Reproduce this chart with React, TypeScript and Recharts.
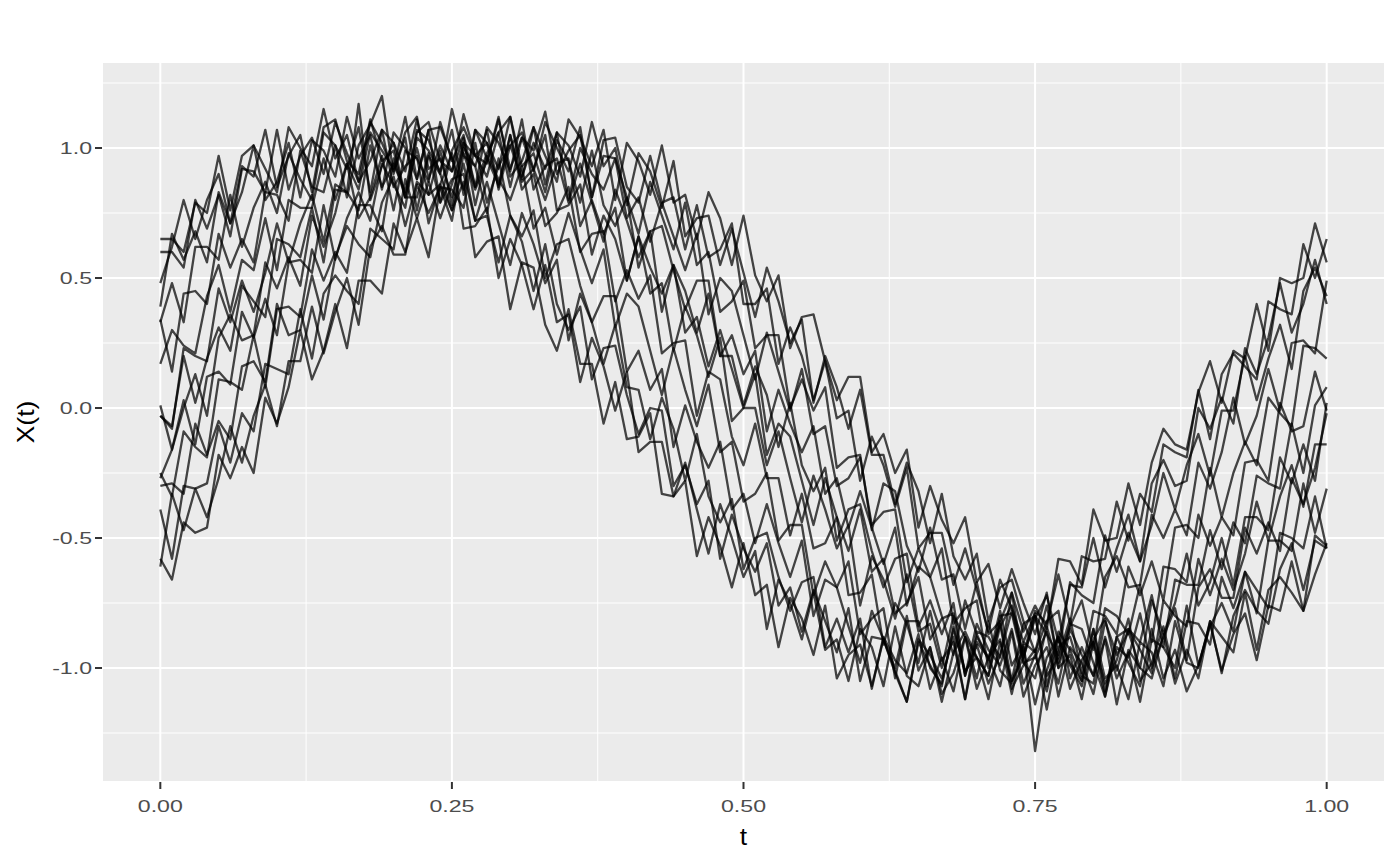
import { LineChart, Line, XAxis, YAxis, CartesianGrid } from 'recharts'

// time grid t = 0.00 .. 1.00
const T = [
  0.00, 0.01, 0.02, 0.03, 0.04, 0.05, 0.06, 0.07, 0.08, 0.09,
  0.10, 0.11, 0.12, 0.13, 0.14, 0.15, 0.16, 0.17, 0.18, 0.19,
  0.20, 0.21, 0.22, 0.23, 0.24, 0.25, 0.26, 0.27, 0.28, 0.29,
  0.30, 0.31, 0.32, 0.33, 0.34, 0.35, 0.36, 0.37, 0.38, 0.39,
  0.40, 0.41, 0.42, 0.43, 0.44, 0.45, 0.46, 0.47, 0.48, 0.49,
  0.50, 0.51, 0.52, 0.53, 0.54, 0.55, 0.56, 0.57, 0.58, 0.59,
  0.60, 0.61, 0.62, 0.63, 0.64, 0.65, 0.66, 0.67, 0.68, 0.69,
  0.70, 0.71, 0.72, 0.73, 0.74, 0.75, 0.76, 0.77, 0.78, 0.79,
  0.80, 0.81, 0.82, 0.83, 0.84, 0.85, 0.86, 0.87, 0.88, 0.89,
  0.90, 0.91, 0.92, 0.93, 0.94, 0.95, 0.96, 0.97, 0.98, 0.99,
  1.00,
]

const S01 = [
  0.65, 0.65, 0.60, 0.79, 0.75, 0.97, 0.76, 0.97, 1.01, 0.92,
  0.83, 1.08, 1.00, 0.93, 1.15, 0.96, 1.05, 0.87, 0.95, 1.07,
  0.85, 0.93, 0.97, 0.71, 0.86, 0.76, 0.87, 0.58, 0.64, 0.66,
  0.38, 0.56, 0.54, 0.32, 0.22, 0.38, 0.17, 0.17, -0.06, 0.10,
  -0.12, -0.11, -0.02, -0.33, -0.34, -0.28, -0.57, -0.42, -0.53, -0.69,
  -0.52, -0.72, -0.68, -0.92, -0.73, -0.81, -0.95, -0.76, -1.04, -0.95,
  -0.91, -1.07, -0.89, -1.02, -1.13, -0.89, -0.95, -1.04, -0.88, -1.12,
  -0.86, -0.88, -0.96, -0.71, -0.86, -0.76, -0.85, -0.58, -0.59, -0.68,
  -0.39, -0.51, -0.50, -0.29, -0.45, -0.21, -0.08, -0.14, -0.16, 0.06,
  0.18, 0.02, 0.22, 0.19, 0.40, 0.22, 0.50, 0.48, 0.50, 0.71,
  0.56,
]
const S02 = [
  0.48, 0.62, 0.80, 0.65, 0.80, 0.90, 0.71, 0.93, 0.89, 1.07,
  0.85, 0.97, 1.05, 0.83, 1.08, 1.11, 0.95, 0.90, 1.11, 0.95,
  0.99, 0.81, 1.00, 0.82, 0.86, 0.98, 0.69, 0.70, 0.77, 0.50,
  0.65, 0.55, 0.38, 0.55, 0.33, 0.36, 0.10, 0.27, 0.16, -0.01,
  0.14, -0.17, -0.13, -0.13, -0.34, -0.21, -0.39, -0.56, -0.37, -0.50,
  -0.65, -0.55, -0.85, -0.66, -0.75, -0.89, -0.71, -0.93, -0.89, -1.05,
  -0.85, -0.92, -1.07, -0.84, -1.03, -1.07, -0.92, -1.13, -0.94, -0.86,
  -0.96, -1.03, -0.84, -0.76, -0.95, -0.78, -0.83, -0.64, -0.83, -0.57,
  -0.59, -0.58, -0.36, -0.51, -0.33, -0.40, -0.14, -0.17, -0.19, 0.07,
  -0.12, 0.13, 0.21, 0.16, 0.11, 0.41, 0.38, 0.36, 0.63, 0.50,
  0.65,
]
const S03 = [
  0.39, 0.67, 0.57, 0.68, 0.56, 0.83, 0.71, 0.83, 1.01, 0.80,
  0.87, 1.02, 0.81, 1.03, 0.99, 0.89, 1.12, 0.96, 1.05, 0.84,
  1.06, 1.00, 0.88, 1.07, 0.79, 0.88, 0.90, 0.72, 0.87, 0.71,
  0.55, 0.75, 0.63, 0.48, 0.57, 0.26, 0.44, 0.33, 0.17, 0.32,
  0.08, 0.07, -0.12, 0.04, -0.08, -0.28, -0.10, -0.34, -0.44, -0.35,
  -0.62, -0.50, -0.48, -0.65, -0.78, -0.67, -0.65, -0.92, -0.81, -0.94,
  -0.81, -1.08, -0.88, -0.97, -1.02, -0.87, -1.08, -0.96, -1.09, -0.88,
  -0.96, -1.03, -0.82, -1.05, -0.83, -0.80, -0.87, -0.95, -0.67, -0.72,
  -0.75, -0.49, -0.63, -0.48, -0.59, -0.45, -0.25, -0.39, -0.22, -0.10,
  -0.26, -0.01, -0.01, 0.20, 0.03, 0.19, 0.32, 0.15, 0.45, 0.54,
  0.43,
]
const S04 = [
  0.33, 0.48, 0.33, 0.62, 0.62, 0.57, 0.82, 0.62, 0.77, 0.87,
  0.75, 0.98, 0.88, 0.80, 1.06, 1.01, 0.92, 1.08, 0.83, 1.07,
  1.02, 0.91, 1.11, 0.92, 0.96, 0.81, 1.00, 0.93, 0.75, 0.96,
  0.74, 0.66, 0.76, 0.50, 0.63, 0.65, 0.47, 0.33, 0.43, 0.43,
  0.14, 0.22, 0.07, 0.15, -0.15, 0.01, -0.13, -0.23, -0.13, -0.39,
  -0.33, -0.52, -0.37, -0.52, -0.65, -0.51, -0.80, -0.66, -0.69, -0.84,
  -0.98, -0.78, -0.89, -1.00, -0.80, -1.01, -0.92, -1.10, -1.02, -0.88,
  -1.08, -0.96, -0.89, -1.10, -0.90, -0.94, -0.76, -0.98, -0.84, -0.74,
  -0.93, -0.65, -0.57, -0.69, -0.68, -0.41, -0.50, -0.39, -0.49, -0.21,
  -0.31, -0.17, 0.04, -0.14, -0.03, 0.15, -0.01, 0.25, 0.26, 0.21,
  0.49,
]
const S05 = [
  0.34, 0.14, 0.44, 0.45, 0.40, 0.67, 0.54, 0.65, 0.56, 0.83,
  0.82, 0.72, 0.99, 0.85, 0.83, 1.01, 0.81, 1.01, 1.09, 1.20,
  0.90, 1.06, 1.12, 0.88, 1.01, 0.91, 1.04, 0.78, 0.97, 0.88,
  0.80, 0.93, 0.69, 0.77, 0.59, 0.75, 0.61, 0.48, 0.61, 0.31,
  0.44, 0.39, 0.22, 0.05, 0.23, 0.07, -0.07, 0.09, -0.17, -0.13,
  -0.36, -0.33, -0.25, -0.51, -0.45, -0.45, -0.72, -0.59, -0.69, -0.59,
  -0.87, -0.81, -0.77, -1.04, -0.82, -0.82, -1.00, -1.06, -0.85, -1.01,
  -0.96, -1.12, -0.90, -1.05, -0.96, -0.80, -1.03, -0.96, -0.81, -1.02,
  -0.78, -0.80, -0.87, -0.61, -0.72, -0.59, -0.74, -0.46, -0.45, -0.50,
  -0.23, -0.42, -0.25, -0.13, -0.22, 0.04, -0.02, -0.07, 0.24, 0.23,
  0.19,
]
const S06 = [
  0.17, 0.30, 0.24, 0.21, 0.43, 0.55, 0.37, 0.57, 0.53, 0.73,
  0.53, 0.80, 0.77, 0.77, 0.96, 0.80, 0.94, 0.84, 1.06, 0.99,
  0.92, 1.12, 0.88, 1.07, 1.08, 0.96, 0.84, 1.07, 0.96, 0.86,
  1.05, 0.84, 0.90, 0.70, 0.75, 0.85, 0.60, 0.67, 0.68, 0.41,
  0.53, 0.42, 0.51, 0.21, 0.25, 0.26, -0.03, 0.14, 0.11, -0.11,
  -0.22, -0.06, -0.27, -0.27, -0.49, -0.33, -0.54, -0.52, -0.42, -0.72,
  -0.71, -0.64, -0.91, -0.75, -0.83, -0.98, -0.78, -0.97, -0.90, -1.12,
  -0.90, -0.96, -1.07, -0.86, -1.11, -0.99, -0.92, -1.06, -0.85, -0.95,
  -1.03, -0.77, -0.80, -0.87, -0.68, -0.90, -0.61, -0.62, -0.67, -0.41,
  -0.53, -0.42, -0.49, -0.21, -0.20, -0.28, 0.02, -0.09, -0.07, 0.14,
  -0.01,
]
const S07 = [
  -0.03, -0.08, 0.23, 0.20, 0.18, 0.46, 0.33, 0.49, 0.37, 0.52,
  0.71, 0.56, 0.71, 0.82, 0.64, 0.86, 0.83, 1.17, 0.80, 0.93,
  1.02, 0.81, 1.06, 1.10, 0.95, 0.91, 1.13, 0.97, 1.02, 0.85,
  1.05, 0.87, 0.92, 1.05, 0.76, 0.78, 0.86, 0.59, 0.74, 0.65,
  0.49, 0.66, 0.44, 0.48, 0.22, 0.39, 0.28, 0.12, 0.27, -0.05,
  0.00, 0.00, -0.22, -0.09, -0.27, -0.44, -0.26, -0.39, -0.54, -0.45,
  -0.76, -0.57, -0.66, -0.81, -0.64, -0.86, -0.83, -1.00, -0.80, -0.88,
  -1.04, -0.82, -1.01, -1.06, -0.92, -1.14, -0.96, -0.88, -0.99, -1.07,
  -0.89, -0.81, -1.01, -0.85, -0.90, -0.72, -0.92, -0.66, -0.68, -0.68,
  -0.47, -0.62, -0.44, -0.52, -0.26, -0.29, -0.31, -0.06, -0.25, 0.01,
  0.08,
]
const S08 = [
  0.01, -0.16, 0.00, 0.13, -0.03, 0.27, 0.36, 0.26, 0.28, 0.56,
  0.46, 0.58, 0.47, 0.74, 0.62, 0.75, 0.94, 0.73, 0.81, 0.97,
  0.76, 0.99, 0.96, 0.87, 1.10, 0.95, 1.05, 0.85, 1.08, 1.02,
  0.91, 1.11, 0.84, 0.93, 0.96, 0.79, 0.94, 0.79, 0.64, 0.84,
  0.72, 0.58, 0.68, 0.37, 0.55, 0.45, 0.29, 0.44, 0.20, 0.20,
  0.01, 0.16, 0.05, -0.15, 0.02, -0.22, -0.32, -0.23, -0.51, -0.39,
  -0.37, -0.55, -0.69, -0.58, -0.56, -0.84, -0.74, -0.87, -0.75, -1.03,
  -0.83, -0.93, -0.99, -0.85, -1.06, -0.95, -1.09, -0.89, -0.98, -1.05,
  -0.85, -1.09, -0.88, -0.85, -0.93, -1.02, -0.74, -0.80, -0.84, -0.58,
  -0.72, -0.58, -0.70, -0.56, -0.36, -0.51, -0.34, -0.22, -0.38, -0.14,
  -0.14,
]
const S09 = [
  -0.27, -0.16, 0.03, -0.14, 0.12, 0.14, 0.09, 0.37, 0.27, 0.42,
  0.28, 0.56, 0.57, 0.52, 0.78, 0.57, 0.73, 0.83, 0.72, 0.94,
  0.86, 0.77, 1.04, 0.99, 0.91, 1.07, 0.82, 1.07, 1.02, 0.92,
  1.12, 0.93, 0.98, 0.83, 1.03, 0.95, 0.79, 0.99, 0.78, 0.70,
  0.81, 0.54, 0.68, 0.70, 0.53, 0.38, 0.49, 0.49, 0.20, 0.28,
  0.13, 0.22, -0.09, 0.07, -0.06, -0.17, -0.07, -0.33, -0.27, -0.46,
  -0.32, -0.46, -0.60, -0.46, -0.76, -0.61, -0.65, -0.80, -0.95, -0.74,
  -0.87, -0.97, -0.78, -0.99, -0.91, -1.32, -1.01, -0.88, -1.08, -0.97,
  -0.90, -1.11, -0.92, -0.96, -0.79, -1.00, -0.88, -0.77, -0.97, -0.69,
  -0.62, -0.73, -0.73, -0.46, -0.56, -0.44, -0.55, -0.27, -0.37, -0.23,
  -0.02,
]
const S10 = [
  -0.25, -0.34, -0.09, -0.15, -0.19, 0.11, 0.10, 0.07, 0.28, 0.08,
  0.38, 0.39, 0.35, 0.61, 0.49, 0.60, 0.52, 0.78, 0.78, 0.68,
  0.96, 0.81, 0.81, 0.98, 0.79, 0.99, 1.08, 0.97, 0.89, 1.06,
  1.12, 0.89, 1.02, 0.92, 1.06, 0.80, 1.00, 0.90, 0.84, 0.96,
  0.73, 0.81, 0.64, 0.79, 0.66, 0.53, 0.67, 0.36, 0.50, 0.45,
  0.28, 0.11, 0.29, 0.14, -0.01, 0.15, -0.10, -0.07, -0.30, -0.27,
  -0.19, -0.45, -0.40, -0.39, -0.67, -0.54, -0.65, -0.54, -0.83, -0.77,
  -0.74, -1.00, -0.80, -0.79, -0.98, -1.04, -0.84, -1.00, -0.95, -1.12,
  -0.90, -1.06, -0.97, -0.81, -1.05, -0.98, -0.84, -1.04, -0.82, -0.83,
  -0.91, -0.65, -0.77, -0.63, -0.79, -0.51, -0.51, -0.55, -0.29, -0.48,
  -0.31,
]
const S11 = [
  -0.30, -0.29, -0.33, -0.06, -0.18, -0.05, -0.12, 0.16, 0.18, 0.10,
  0.40, 0.28, 0.30, 0.51, 0.34, 0.58, 0.70, 0.63, 0.58, 0.79,
  0.89, 0.70, 0.87, 0.82, 0.99, 0.78, 1.02, 0.97, 0.94, 1.11,
  0.92, 1.04, 0.91, 1.10, 1.00, 0.91, 1.08, 0.81, 0.97, 0.96,
  0.81, 0.67, 0.87, 0.74, 0.61, 0.79, 0.55, 0.60, 0.37, 0.41,
  0.49, 0.23, 0.28, 0.28, 0.00, 0.11, -0.01, 0.08, -0.23, -0.19,
  -0.18, -0.47, -0.29, -0.32, -0.53, -0.63, -0.46, -0.66, -0.64, -0.85,
  -0.67, -0.87, -0.82, -0.71, -0.98, -0.96, -0.86, -1.11, -0.92, -0.98,
  -1.10, -0.88, -1.04, -0.94, -1.13, -0.89, -0.92, -1.00, -0.76, -0.99,
  -0.84, -0.75, -0.86, -0.63, -0.70, -0.77, -0.48, -0.50, -0.54, -0.34,
  -0.54,
]
const S12 = [
  -0.39, -0.58, -0.30, -0.31, -0.29, -0.07, -0.21, -0.02, -0.09, 0.17,
  0.15, 0.13, 0.38, 0.19, 0.44, 0.51, 0.45, 0.40, 0.69, 0.65,
  0.61, 0.88, 0.73, 0.87, 0.73, 0.86, 1.02, 0.85, 0.98, 1.06,
  0.85, 1.04, 0.99, 1.14, 0.90, 0.99, 1.05, 0.81, 1.03, 1.04,
  0.85, 0.79, 0.97, 0.79, 0.81, 0.61, 0.78, 0.58, 0.61, 0.71,
  0.40, 0.40, 0.46, 0.17, 0.31, 0.20, 0.03, 0.18, -0.04, -0.01,
  -0.28, -0.11, -0.22, -0.38, -0.23, -0.54, -0.48, -0.48, -0.68, -0.54,
  -0.70, -0.86, -0.66, -0.77, -0.90, -0.79, -1.07, -0.86, -0.93, -1.05,
  -0.85, -1.04, -0.99, -1.12, -0.90, -0.94, -1.07, -0.82, -0.98, -1.00,
  -0.82, -1.02, -0.80, -0.70, -0.78, -0.83, -0.62, -0.52, -0.70, -0.51,
  -0.54,
]
const S13 = [
  -0.61, -0.33, -0.47, -0.31, -0.42, -0.27, -0.07, -0.21, -0.03, 0.09,
  -0.07, 0.18, 0.18, 0.39, 0.21, 0.37, 0.50, 0.32, 0.62, 0.70,
  0.59, 0.59, 0.86, 0.75, 0.85, 0.72, 0.98, 0.84, 0.95, 1.12,
  0.89, 0.95, 1.08, 0.86, 1.06, 1.01, 0.89, 1.10, 0.93, 1.00,
  0.78, 0.98, 0.91, 0.77, 0.95, 0.66, 0.73, 0.74, 0.55, 0.69,
  0.52, 0.35, 0.54, 0.41, 0.25, 0.34, 0.02, 0.20, 0.08, -0.08,
  0.07, -0.18, -0.18, -0.37, -0.21, -0.32, -0.52, -0.33, -0.57, -0.66,
  -0.56, -0.82, -0.69, -0.66, -0.82, -0.94, -0.82, -0.78, -1.04, -0.92,
  -1.03, -0.89, -1.14, -0.93, -1.00, -1.04, -0.87, -1.06, -0.93, -1.04,
  -0.82, -0.88, -0.94, -0.71, -0.93, -0.70, -0.65, -0.71, -0.78, -0.49,
  -0.53,
]
const S14 = [
  -0.58, -0.66, -0.44, -0.48, -0.46, -0.18, -0.27, -0.15, -0.25, 0.04,
  -0.06, 0.08, 0.30, 0.11, 0.22, 0.40, 0.23, 0.49, 0.49, 0.44,
  0.71, 0.60, 0.73, 0.58, 0.85, 0.84, 0.77, 1.02, 0.79, 0.93,
  1.01, 0.88, 1.08, 0.97, 0.87, 1.11, 1.04, 0.93, 1.07, 0.80,
  1.02, 0.95, 0.82, 1.01, 0.79, 0.82, 0.65, 0.83, 0.73, 0.55,
  0.74, 0.51, 0.41, 0.51, 0.23, 0.35, 0.36, 0.18, 0.03, 0.12,
  0.12, -0.17, -0.10, -0.25, -0.16, -0.46, -0.30, -0.43, -0.52, -0.42,
  -0.67, -0.60, -0.77, -0.62, -0.75, -0.87, -0.71, -1.00, -0.83, -0.85,
  -0.98, -1.11, -0.88, -0.98, -1.07, -0.85, -1.04, -0.93, -1.09, -0.99,
  -0.83, -1.01, -0.87, -0.79, -0.97, -0.76, -0.78, -0.59, -0.78, -0.64,
  -0.52,
]
const S15 = [
  0.60, 0.60, 0.54, 0.80, 0.69, 0.82, 0.66, 0.92, 0.91, 0.83,
  1.07, 0.84, 0.97, 1.04, 0.90, 1.10, 0.98, 0.87, 1.10, 1.02,
  0.91, 1.04, 0.76, 0.97, 0.90, 0.76, 0.94, 0.72, 0.74, 0.56,
  0.74, 0.64, 0.45, 0.63, 0.40, 0.30, 0.39, 0.11, 0.23, 0.24,
  0.05, -0.10, 0.00, -0.01, -0.30, -0.22, -0.37, -0.28, -0.58, -0.41,
  -0.54, -0.63, -0.52, -0.76, -0.69, -0.86, -0.70, -0.82, -0.94, -0.77,
  -1.05, -0.88, -0.89, -1.01, -1.13, -0.90, -0.99, -1.07, -0.84, -1.02,
  -0.91, -1.06, -0.95, -0.78, -0.96, -0.81, -0.72, -0.90, -0.68, -0.69,
  -0.50, -0.69, -0.54, -0.41, -0.59, -0.29, -0.20, -0.30, -0.28, 0.00,
  -0.08, 0.04, -0.06, 0.23, 0.13, 0.27, 0.48, 0.29, 0.40, 0.57,
  0.40,
]
const S16 = [
  -0.03, -0.07, 0.20, 0.02, 0.19, 0.31, 0.22, 0.47, 0.41, 0.35,
  0.65, 0.63, 0.58, 0.77, 0.56, 0.84, 0.83, 0.76, 1.01, 0.85,
  0.94, 0.83, 1.07, 1.03, 0.90, 1.15, 0.97, 0.93, 1.07, 0.84,
  1.01, 1.06, 0.92, 0.80, 0.94, 0.96, 0.70, 0.80, 0.67, 0.77,
  0.49, 0.66, 0.54, 0.44, 0.55, 0.29, 0.35, 0.16, 0.30, 0.15,
  0.00, 0.13, -0.18, -0.06, -0.11, -0.28, -0.45, -0.27, -0.42, -0.55,
  -0.39, -0.63, -0.58, -0.79, -0.75, -0.65, -0.89, -0.81, -0.79, -1.03,
  -0.88, -0.96, -0.83, -1.08, -0.99, -0.93, -1.16, -0.92, -0.88, -1.03,
  -1.06, -0.82, -0.95, -0.86, -1.00, -0.74, -0.87, -0.75, -0.56, -0.76,
  -0.67, -0.50, -0.68, -0.42, -0.42, -0.47, -0.19, -0.29, -0.14, -0.28,
  0.02,
]

const SERIES = [S01, S02, S03, S04, S05, S06, S07, S08, S09, S10, S11, S12, S13, S14, S15, S16]
const KEYS = SERIES.map((_, i) => `x${i + 1}`)

const X_TICKS = [0, 0.25, 0.5, 0.75, 1]
const X_MINOR = [0.125, 0.375, 0.625, 0.875]
const Y_TICKS = [-1, -0.5, 0, 0.5, 1]
const Y_MINOR = [-1.25, -0.75, -0.25, 0.25, 0.75, 1.25]
const X_DOMAIN = [-0.05, 1.05]
const Y_DOMAIN = [-1.4385, 1.3308]

const rows = T.map((t, i) => {
  const row: Record<string, number> = { t }
  SERIES.forEach((s, k) => { row[KEYS[k]] = s[i] })
  return row
})

const FONT = '"Liberation Sans", Arial, Helvetica, sans-serif'

function XTick({ x, y, payload }: any) {
  return (
    <text
      transform={`translate(${x},${y + 21}) scale(1.36,1)`}
      textAnchor="middle"
      fill="#4D4D4D"
      fontSize={17}
      fontFamily={FONT}
    >
      {Number(payload.value).toFixed(2)}
    </text>
  )
}

function YTick({ x, y, payload }: any) {
  return (
    <text
      transform={`translate(${x - 1},${y + 6}) scale(1.36,1)`}
      textAnchor="end"
      fill="#4D4D4D"
      fontSize={17}
      fontFamily={FONT}
    >
      {Number(payload.value).toFixed(1)}
    </text>
  )
}

function XTitle({ viewBox }: any) {
  const cx = viewBox.x + viewBox.width / 2
  return (
    <text
      transform={`translate(${cx},${viewBox.y + 63}) scale(1.15,1)`}
      textAnchor="middle"
      fill="#000000"
      fontSize={23}
      fontFamily={FONT}
    >
      t
    </text>
  )
}

function YTitle({ viewBox }: any) {
  const cy = viewBox.y + viewBox.height / 2
  return (
    <text
      transform={`translate(${viewBox.x + 34},${cy}) rotate(-90) scale(1.15,1)`}
      textAnchor="middle"
      fill="#000000"
      fontSize={23}
      fontFamily={FONT}
    >
      X(t)
    </text>
  )
}

export default function App() {
  return (
    <div style={{ width: 1400, height: 866, background: '#FFFFFF' }}>
      <style>{'body{margin:0}'}</style>
      <LineChart
        width={1400}
        height={866}
        data={rows}
        margin={{ top: 62, right: 15, bottom: 0, left: 0 }}
      >
        {/* hidden axes only feed the minor grid */}
        <XAxis xAxisId="minor" dataKey="t" type="number" domain={X_DOMAIN} ticks={X_MINOR} allowDataOverflow hide />
        <YAxis yAxisId="minor" type="number" domain={Y_DOMAIN} ticks={Y_MINOR} allowDataOverflow hide />
        <CartesianGrid xAxisId="minor" yAxisId="minor" fill="#EBEBEB" fillOpacity={1} stroke="#FFFFFF" strokeWidth={1} />
        <CartesianGrid stroke="#FFFFFF" strokeWidth={2} />

        <XAxis
          dataKey="t"
          type="number"
          domain={X_DOMAIN}
          ticks={X_TICKS}
          allowDataOverflow
          height={84}
          tickSize={7}
          axisLine={false}
          tickLine={{ stroke: '#333333', strokeWidth: 2 }}
          tick={<XTick />}
          label={{ content: <XTitle /> }}
        />
        <YAxis
          type="number"
          domain={Y_DOMAIN}
          ticks={Y_TICKS}
          allowDataOverflow
          width={102}
          tickSize={7}
          axisLine={false}
          tickLine={{ stroke: '#333333', strokeWidth: 2 }}
          tick={<YTick />}
          label={{ content: <YTitle /> }}
        />

        {KEYS.map((k) => (
          <Line
            key={k}
            dataKey={k}
            type="linear"
            stroke="#000000"
            strokeOpacity={0.72}
            strokeWidth={2.3}
            strokeLinejoin="round"
            dot={false}
            activeDot={false}
            isAnimationActive={false}
          />
        ))}
      </LineChart>
    </div>
  )
}
